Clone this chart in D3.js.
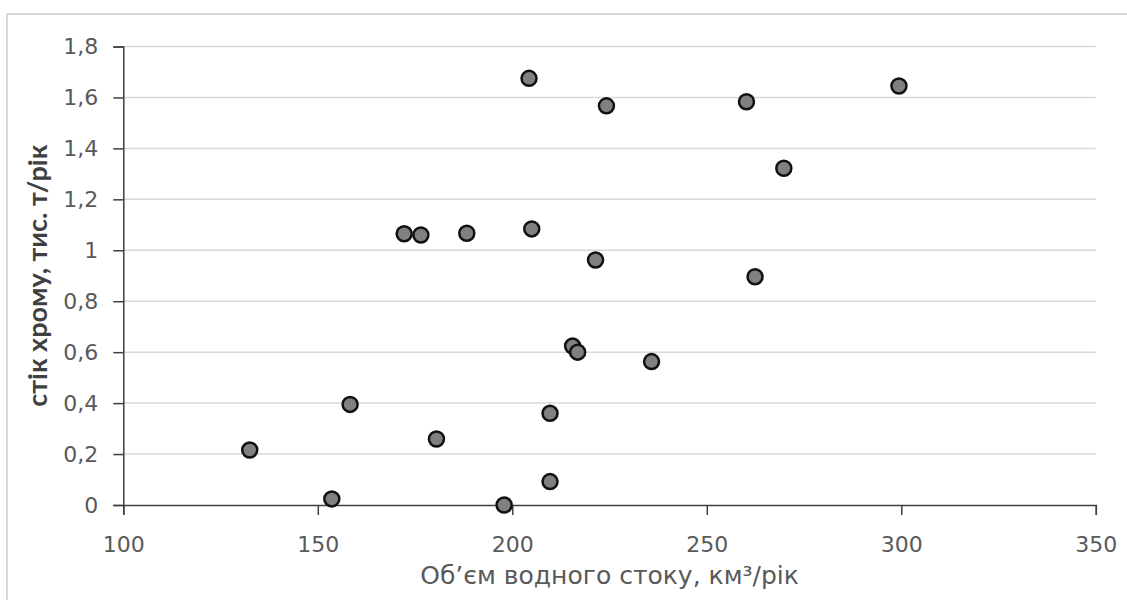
<!DOCTYPE html>
<html>
<head>
<meta charset="utf-8">
<script src="https://cdn.jsdelivr.net/npm/d3@7"></script>
<style>
  body { margin: 0; background: #fff; }
  svg { display: block; font-family: "DejaVu Sans", sans-serif; }
</style>
</head>
<body>
<svg id="chart" width="1127" height="600"></svg>
<script>
// values
const flowVolume = [132.5, 153.6, 158.3, 172.2, 176.5, 180.5, 188.3, 197.9, 204.3, 205.0, 209.7,
  209.7, 215.5, 216.8, 221.4, 224.2, 235.8, 260.2, 262.4, 269.8, 299.4];
const chromeRunoff = [0.216, 0.024, 0.395, 1.065, 1.060, 0.259, 1.067, 0.0, 1.675, 1.084, 0.360,
  0.092, 0.624, 0.600, 0.962, 1.567, 0.563, 1.583, 0.896, 1.322, 1.645];

const xTicks = [100, 150, 200, 250, 300, 350];
const yTicks = [0, 0.2, 0.4, 0.6, 0.8, 1, 1.2, 1.4, 1.6, 1.8];
const yTickLabels = ["0", "0,2", "0,4", "0,6", "0,8", "1", "1,2", "1,4", "1,6", "1,8"];

const xTitle = "Об’єм водного стоку, км³/рік";
const yTitle = "стік хрому, тис. т/рік";

const svg = d3.select("#chart");
const plotLeft = 123.3, plotRight = 1095.8, plotTop = 46.5, plotBottom = 505;

const x = d3.scaleLinear().domain([100, 350]).range([plotLeft, plotRight]);
const y = d3.scaleLinear().domain([0, 1.8]).range([plotBottom, plotTop]);

// outer chart frame (partly off screen)
svg.append("rect")
  .attr("x", 7).attr("y", 14)
  .attr("width", 1140).attr("height", 620)
  .attr("fill", "#fff")
  .attr("stroke", "#d9d9d9")
  .attr("stroke-width", 2);

// horizontal gridlines
svg.append("g")
  .selectAll("line")
  .data(yTicks.filter((d) => d > 0))
  .join("line")
  .attr("x1", plotLeft).attr("x2", plotRight)
  .attr("y1", (d) => y(d)).attr("y2", (d) => y(d))
  .attr("stroke", "#d9d9d9")
  .attr("stroke-width", 1.5);

const xAxis = svg.append("g")
  .attr("transform", `translate(0,${plotBottom})`)
  .call(d3.axisBottom(x).tickValues(xTicks).tickSize(10).tickPadding(21).tickSizeOuter(10));

const yAxis = svg.append("g")
  .attr("transform", `translate(${plotLeft},0)`)
  .call(d3.axisLeft(y).tickValues(yTicks).tickFormat((d, i) => yTickLabels[i])
    .tickSize(10).tickPadding(15).tickSizeOuter(10));

[xAxis, yAxis].forEach((g) => {
  g.select(".domain").attr("stroke", "#404040").attr("stroke-width", 1.5);
  g.selectAll(".tick line").attr("stroke", "#404040").attr("stroke-width", 1.5);
  g.selectAll(".tick text")
    .attr("fill", "#595959")
    .style("font-size", "22px")
    .style("font-family", "'DejaVu Sans', sans-serif");
});

// points
svg.append("g")
  .selectAll("circle")
  .data(flowVolume.map((v, i) => [v, chromeRunoff[i]]))
  .join("circle")
  .attr("cx", (d) => x(d[0]))
  .attr("cy", (d) => y(d[1]))
  .attr("r", 7.5)
  .attr("fill", "#808080")
  .attr("stroke", "#111")
  .attr("stroke-width", 2.5);

// axis titles
svg.append("text")
  .attr("x", (plotLeft + plotRight) / 2)
  .attr("y", 584)
  .attr("text-anchor", "middle")
  .attr("fill", "#595959")
  .style("font-size", "25px")
  .text(xTitle);

svg.append("text")
  .attr("transform", `translate(47,${(plotTop + plotBottom) / 2}) rotate(-90)`)
  .attr("text-anchor", "middle")
  .attr("fill", "#404040")
  .style("font-family", "Lato, sans-serif")
  .style("font-size", "27px")
  .style("font-weight", "bold")
  .text(yTitle);
</script>
</body>
</html>
